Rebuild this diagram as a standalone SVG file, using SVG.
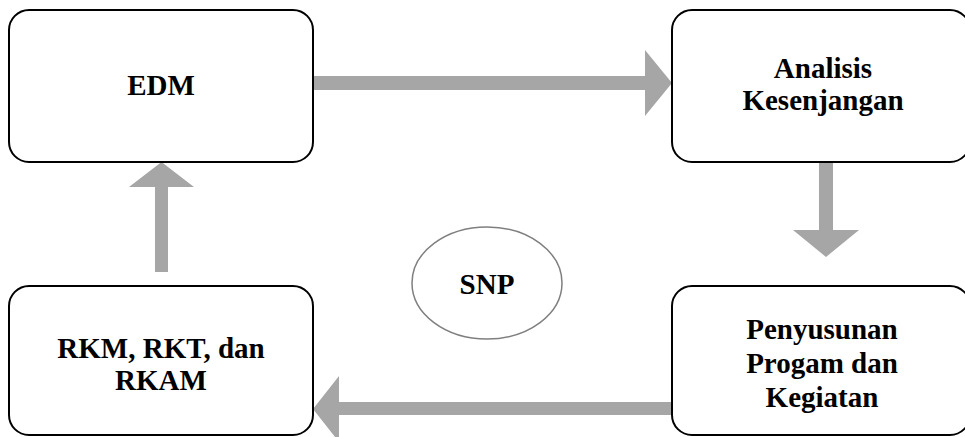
<svg xmlns="http://www.w3.org/2000/svg" width="965" height="437" viewBox="0 0 965 437">
<style>
.box{fill:#ffffff;stroke:#000000;stroke-width:2}
.arr{fill:#a6a6a6;stroke:none}
.lbl{font-family:"Liberation Serif","Times New Roman",serif;font-weight:bold;font-size:29px;fill:#000000;text-anchor:middle}
</style>
<rect width="965" height="437" fill="#ffffff"/>
<g id="connectors">
<polygon class="arr" points="313,76 645,76 645,50 672,83 645,116 645,90 313,90"/>
<polygon class="arr" points="819,162 833,162 833,230 859,230 826,257 793,230 819,230"/>
<polygon class="arr" points="672,402 339,402 339,376 313,409 339,442 339,415 672,415"/>
<polygon class="arr" points="155,272 155,187 129,187 161.5,162 194,187 168,187 168,272"/>
</g>
<g id="edm">
<rect class="box" x="9" y="10" width="304" height="152" rx="20" ry="20"/>
<text class="lbl" x="161" y="95">EDM</text>
</g>
<g id="analisis">
<rect class="box" x="672" y="10" width="298" height="152" rx="20" ry="20"/>
<text class="lbl" x="823" y="78">Analisis</text>
<text class="lbl" x="823" y="110">Kesenjangan</text>
</g>
<g id="penyusunan">
<rect class="box" x="672" y="286" width="298" height="149" rx="20" ry="20"/>
<text class="lbl" x="822" y="339">Penyusunan</text>
<text class="lbl" x="822" y="373">Progam dan</text>
<text class="lbl" x="822" y="407">Kegiatan</text>
</g>
<g id="rkm">
<rect class="box" x="9" y="286" width="304" height="149" rx="20" ry="20"/>
<text class="lbl" x="161" y="358">RKM, RKT, dan</text>
<text class="lbl" x="161" y="390">RKAM</text>
</g>
<g id="snp">
<ellipse cx="487" cy="283" rx="75" ry="56" fill="#ffffff" stroke="#7f7f7f" stroke-width="1.5"/>
<text class="lbl" x="487" y="294">SNP</text>
</g>
</svg>
